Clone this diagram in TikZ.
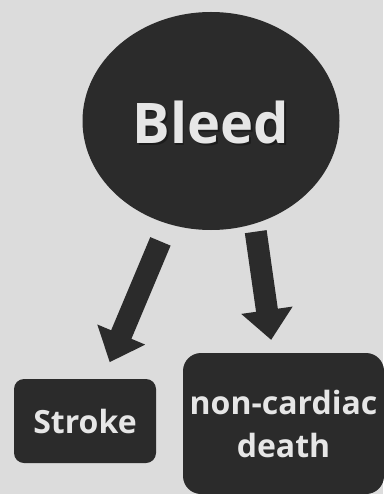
\documentclass[tikz,border=0pt]{standalone}
\usepackage{fontspec}
\setmainfont{Open Sans}
\usetikzlibrary{shapes.geometric,arrows.meta}
\definecolor{bg}{HTML}{DCDCDC}
\definecolor{dk}{HTML}{2B2B2B}
\definecolor{lt}{HTML}{E6E6E6}
\begin{document}
\begin{tikzpicture}[x=1pt,y=-1pt,
  bigarrow/.style={draw=dk, line width=22pt, -{Triangle[width=50pt,length=30pt]}},
  box/.style={fill=dk, text=lt, align=center, inner sep=0pt,
    font=\fontsize{32}{43}\selectfont\bfseries},
  bigtext/.style={font=\fontsize{56}{60}\selectfont\bfseries}]
\fill[bg] (0,0) rectangle (383,494);
\useasboundingbox (0,0) rectangle (383,494);
\node[ellipse, fill=dk, minimum width=257pt, minimum height=218pt, inner sep=0pt] (bleed) at (211,121) {};
\node[bigtext, text=black!90, opacity=0.8] (bleedshadow) at (212.5,124.5) {Bleed};
\node[bigtext, text=lt] (bleedtext) at (211,123) {Bleed};
\node[box, minimum width=142pt, minimum height=84pt, rounded corners=10pt] (stroke) at (85,421) {Stroke};
\node[box, minimum width=201pt, minimum height=141pt, rounded corners=18pt] (death) at (283.5,423.5) {non-cardiac\\death};
\draw[bigarrow, shorten <=19pt, shorten >=18pt] (bleed) -- (stroke);
\draw[bigarrow, shorten <=8pt, shorten >=13pt] (bleed.-67) -- ([xshift=-10.5pt]death.north);
\end{tikzpicture}
\end{document}
